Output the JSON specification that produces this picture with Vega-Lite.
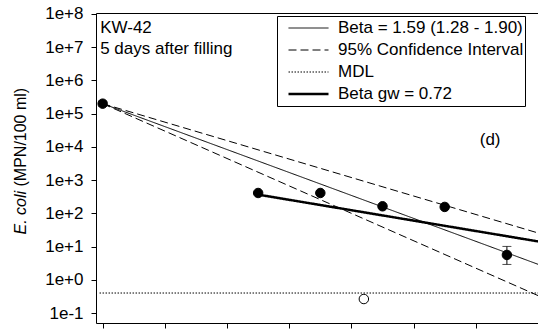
{
  "$schema": "https://vega.github.io/schema/vega-lite/v6.json",
  "width": 442,
  "height": 310,
  "autosize": {"type": "none"},
  "padding": {"left": 96, "top": 13, "right": 0, "bottom": 7},
  "background": "white",
  "config": {
    "view": {"stroke": null},
    "font": "Liberation Sans",
    "axis": {
      "domainColor": "black",
      "tickColor": "black",
      "labelColor": "black",
      "titleColor": "black",
      "labelFont": "Liberation Sans",
      "titleFont": "Liberation Sans",
      "labelFontSize": 17,
      "titleFontSize": 16,
      "titleFontWeight": "normal",
      "grid": false,
      "tickSize": 5,
      "domainWidth": 1,
      "tickWidth": 1
    },
    "legend": {
      "labelFont": "Liberation Sans",
      "labelFontSize": 17,
      "labelColor": "black",
      "labelLimit": 400
    }
  },
  "datasets": {
    "lines": [
      {"series": "Beta = 1.59 (1.28 - 1.90)", "line": "beta", "day": 0, "conc": 200000},
      {"series": "Beta = 1.59 (1.28 - 1.90)", "line": "beta", "day": 7, "conc": 2.93},
      {"series": "95% Confidence Interval", "line": "ciup", "day": 0, "conc": 200000},
      {"series": "95% Confidence Interval", "line": "ciup", "day": 7, "conc": 25.7},
      {"series": "95% Confidence Interval", "line": "cilo", "day": 0, "conc": 200000},
      {"series": "95% Confidence Interval", "line": "cilo", "day": 7, "conc": 0.335},
      {"series": "MDL", "line": "mdl", "day": -0.05, "conc": 0.4},
      {"series": "MDL", "line": "mdl", "day": 7, "conc": 0.4},
      {"series": "Beta gw = 0.72", "line": "gw", "day": 2.5, "conc": 366},
      {"series": "Beta gw = 0.72", "line": "gw", "day": 7, "conc": 14.3}
    ],
    "points": [
      {"day": 0, "conc": 200000, "lo": 170000, "hi": 235000, "detect": "yes"},
      {"day": 2.5, "conc": 410, "detect": "yes"},
      {"day": 3.5, "conc": 410, "detect": "yes"},
      {"day": 4.5, "conc": 163, "detect": "yes"},
      {"day": 5.5, "conc": 156, "detect": "yes"},
      {"day": 6.5, "conc": 5.6, "lo": 2.9, "hi": 10.1, "detect": "yes"},
      {"day": 4.2, "conc": 0.264, "detect": "no"}
    ],
    "notes": [
      {"label": "KW-42", "day": -0.04, "conc": 36600000},
      {"label": "5 days after filling", "day": -0.04, "conc": 9100000}
    ],
    "panel": [
      {"label": "(d)", "day": 6.23, "conc": 16600}
    ]
  },
  "layer": [
    {
      "data": {"name": "lines"},
      "mark": {"type": "line", "color": "black", "clip": true},
      "encoding": {
        "x": {
          "field": "day", "type": "quantitative",
          "scale": {"domain": [-0.107, 7], "nice": false, "zero": false},
          "axis": {"orient": "bottom", "values": [0, 1, 2, 3, 4, 5, 6, 7], "labels": false, "title": null}
        },
        "y": {
          "field": "conc", "type": "quantitative",
          "scale": {"type": "log", "domain": [0.0501, 107000000], "nice": false},
          "axis": {
            "orient": "left",
            "values": [0.1, 1, 10, 100, 1000, 10000, 100000, 1000000, 10000000, 100000000],
            "format": ".0e",
            "labelPadding": 8,
            "title": "E. coli",
            "titleFontStyle": "italic",
            "titleAngle": 270,
            "titleAlign": "left",
            "titleBaseline": "alphabetic",
            "titleX": -71,
            "titleY": 221
          }
        },
        "detail": {"field": "line"},
        "strokeDash": {
          "field": "series", "type": "nominal",
          "scale": {
            "domain": ["Beta = 1.59 (1.28 - 1.90)", "95% Confidence Interval", "MDL", "Beta gw = 0.72"],
            "range": [[1, 0], [8, 4], [1.5, 1.5], [1, 0]]
          },
          "legend": {
            "orient": "none", "legendX": 181, "legendY": 3, "title": null,
            "strokeColor": "black", "fillColor": "white", "padding": 1,
            "symbolType": "stroke", "symbolSize": 1600, "symbolStrokeColor": "black",
            "symbolOffset": 9, "labelOffset": 8, "clipHeight": 22, "rowPadding": 0,
            "labelExpr": "datum.label + '\u00a0\u00a0\u00a0'"
          }
        },
        "strokeWidth": {
          "field": "series", "type": "nominal",
          "scale": {
            "type": "ordinal",
            "domain": ["Beta = 1.59 (1.28 - 1.90)", "95% Confidence Interval", "MDL", "Beta gw = 0.72"],
            "range": [1, 1, 1, 2.5]
          },
          "legend": {
            "orient": "none", "legendX": 181, "legendY": 3, "title": null,
            "strokeColor": "black", "fillColor": "white", "padding": 1,
            "symbolType": "stroke", "symbolSize": 1600, "symbolStrokeColor": "black",
            "symbolOffset": 9, "labelOffset": 8, "clipHeight": 22, "rowPadding": 0,
            "labelExpr": "datum.label + '\u00a0\u00a0\u00a0'"
          }
        }
      }
    },
    {
      "data": {"name": "points"},
      "transform": [{"filter": "isValid(datum.lo)"}],
      "mark": {"type": "rule", "color": "black", "strokeWidth": 1},
      "encoding": {
        "x": {"field": "day", "type": "quantitative", "axis": null},
        "y": {"field": "lo", "type": "quantitative", "axis": null},
        "y2": {"field": "hi"}
      }
    },
    {
      "data": {"name": "points"},
      "transform": [{"filter": "isValid(datum.lo)"}],
      "mark": {"type": "tick", "orient": "horizontal", "color": "black", "size": 9, "thickness": 1},
      "encoding": {
        "x": {"field": "day", "type": "quantitative", "axis": null},
        "y": {"field": "lo", "type": "quantitative", "axis": null}
      }
    },
    {
      "data": {"name": "points"},
      "transform": [{"filter": "isValid(datum.hi)"}],
      "mark": {"type": "tick", "orient": "horizontal", "color": "black", "size": 9, "thickness": 1},
      "encoding": {
        "x": {"field": "day", "type": "quantitative", "axis": null},
        "y": {"field": "hi", "type": "quantitative", "axis": null}
      }
    },
    {
      "data": {"name": "points"},
      "mark": {"type": "point", "shape": "circle", "size": 90, "filled": false, "stroke": "black", "strokeWidth": 1, "opacity": 1},
      "encoding": {
        "x": {
          "field": "day", "type": "quantitative",
          "axis": {"orient": "top", "labels": false, "ticks": false, "domain": true, "title": null}
        },
        "y": {
          "field": "conc", "type": "quantitative",
          "axis": {
            "orient": "left", "labels": false, "ticks": false, "domain": false,
            "title": "(MPN/100 ml)",
            "titleAngle": 270,
            "titleAlign": "left",
            "titleBaseline": "alphabetic",
            "titleX": -71,
            "titleY": 173
          }
        },
        "fill": {
          "field": "detect", "type": "nominal",
          "scale": {"domain": ["yes", "no"], "range": ["black", "white"]},
          "legend": null
        }
      }
    },
    {
      "data": {"name": "notes"},
      "mark": {"type": "text", "align": "left", "baseline": "middle", "fontSize": 17, "color": "black", "font": "Liberation Sans"},
      "encoding": {
        "x": {"field": "day", "type": "quantitative", "axis": null},
        "y": {"field": "conc", "type": "quantitative", "axis": null},
        "text": {"field": "label"}
      }
    },
    {
      "data": {"name": "panel"},
      "mark": {"type": "text", "align": "center", "baseline": "middle", "fontSize": 17, "color": "black", "font": "Liberation Sans"},
      "encoding": {
        "x": {"field": "day", "type": "quantitative", "axis": null},
        "y": {"field": "conc", "type": "quantitative", "axis": null},
        "text": {"field": "label"}
      }
    }
  ],
  "resolve": {"axis": {"x": "independent", "y": "independent"}}
}
